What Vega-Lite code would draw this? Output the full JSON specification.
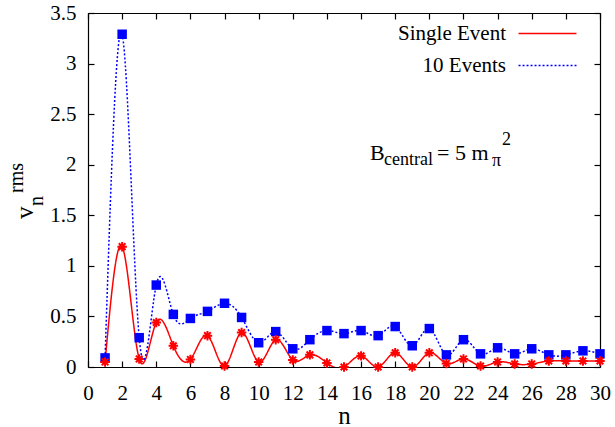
{
  "$schema": "https://vega.github.io/schema/vega-lite/v6.json",
  "autosize": "none",
  "padding": {"left": 88, "top": 13, "right": 15, "bottom": 60},
  "width": 512,
  "height": 354,
  "config": {
    "font": "Liberation Serif, Times New Roman, serif",
    "view": {"stroke": null},
    "axis": {"grid": false, "domainColor": "#000000", "tickColor": "#000000", "labelColor": "#000000", "labelFontSize": 21, "labelFont": "Liberation Serif, Times New Roman, serif", "titleFont": "Liberation Serif, Times New Roman, serif", "titleFontWeight": "normal", "titleColor": "#000000", "domainWidth": 1.2, "tickWidth": 1.2, "labelFlush": false, "labelOverlap": false},
    "text": {"font": "Liberation Serif, Times New Roman, serif"}
  },
  "datasets": {
    "main": [
      {"n": 1, "v": 0.05, "series": "Single Event"},
      {"n": 2, "v": 1.19, "series": "Single Event"},
      {"n": 3, "v": 0.08, "series": "Single Event"},
      {"n": 4, "v": 0.44, "series": "Single Event"},
      {"n": 5, "v": 0.21, "series": "Single Event"},
      {"n": 6, "v": 0.075, "series": "Single Event"},
      {"n": 7, "v": 0.31, "series": "Single Event"},
      {"n": 8, "v": 0.01, "series": "Single Event"},
      {"n": 9, "v": 0.34, "series": "Single Event"},
      {"n": 10, "v": 0.05, "series": "Single Event"},
      {"n": 11, "v": 0.27, "series": "Single Event"},
      {"n": 12, "v": 0.07, "series": "Single Event"},
      {"n": 13, "v": 0.12, "series": "Single Event"},
      {"n": 14, "v": 0.04, "series": "Single Event"},
      {"n": 15, "v": 0.0, "series": "Single Event"},
      {"n": 16, "v": 0.11, "series": "Single Event"},
      {"n": 17, "v": 0.0, "series": "Single Event"},
      {"n": 18, "v": 0.14, "series": "Single Event"},
      {"n": 19, "v": 0.0, "series": "Single Event"},
      {"n": 20, "v": 0.14, "series": "Single Event"},
      {"n": 21, "v": 0.035, "series": "Single Event"},
      {"n": 22, "v": 0.08, "series": "Single Event"},
      {"n": 23, "v": 0.01, "series": "Single Event"},
      {"n": 24, "v": 0.05, "series": "Single Event"},
      {"n": 25, "v": 0.03, "series": "Single Event"},
      {"n": 26, "v": 0.03, "series": "Single Event"},
      {"n": 27, "v": 0.06, "series": "Single Event"},
      {"n": 28, "v": 0.06, "series": "Single Event"},
      {"n": 29, "v": 0.06, "series": "Single Event"},
      {"n": 30, "v": 0.06, "series": "Single Event"},
      {"n": 1, "v": 0.09, "series": "10 Events"},
      {"n": 2, "v": 3.29, "series": "10 Events"},
      {"n": 3, "v": 0.29, "series": "10 Events"},
      {"n": 4, "v": 0.81, "series": "10 Events"},
      {"n": 5, "v": 0.52, "series": "10 Events"},
      {"n": 6, "v": 0.48, "series": "10 Events"},
      {"n": 7, "v": 0.55, "series": "10 Events"},
      {"n": 8, "v": 0.63, "series": "10 Events"},
      {"n": 9, "v": 0.49, "series": "10 Events"},
      {"n": 10, "v": 0.24, "series": "10 Events"},
      {"n": 11, "v": 0.35, "series": "10 Events"},
      {"n": 12, "v": 0.18, "series": "10 Events"},
      {"n": 13, "v": 0.27, "series": "10 Events"},
      {"n": 14, "v": 0.36, "series": "10 Events"},
      {"n": 15, "v": 0.33, "series": "10 Events"},
      {"n": 16, "v": 0.36, "series": "10 Events"},
      {"n": 17, "v": 0.31, "series": "10 Events"},
      {"n": 18, "v": 0.40, "series": "10 Events"},
      {"n": 19, "v": 0.21, "series": "10 Events"},
      {"n": 20, "v": 0.38, "series": "10 Events"},
      {"n": 21, "v": 0.12, "series": "10 Events"},
      {"n": 22, "v": 0.27, "series": "10 Events"},
      {"n": 23, "v": 0.13, "series": "10 Events"},
      {"n": 24, "v": 0.19, "series": "10 Events"},
      {"n": 25, "v": 0.13, "series": "10 Events"},
      {"n": 26, "v": 0.18, "series": "10 Events"},
      {"n": 27, "v": 0.12, "series": "10 Events"},
      {"n": 28, "v": 0.12, "series": "10 Events"},
      {"n": 29, "v": 0.16, "series": "10 Events"},
      {"n": 30, "v": 0.13, "series": "10 Events"}
    ]
  },
  "data": {"name": "main"},
  "resolve": {"axis": {"x": "independent", "y": "independent"}},
  "layer": [
    {
      "mark": {"type": "line", "interpolate": "natural", "clip": true, "strokeWidth": 1.5},
      "encoding": {
        "x": {"field": "n", "type": "quantitative", "scale": {"domain": [0, 30], "nice": false, "zero": false},
              "axis": {"orient": "bottom", "values": [0,2,4,6,8,10,12,14,16,18,20,22,24,26,28,30], "tickSize": -6, "labelPadding": 21, "title": "n", "titleFontSize": 25, "titlePadding": 0}},
        "y": {"field": "v", "type": "quantitative", "scale": {"domain": [0, 3.5], "nice": false},
              "axis": {"orient": "left", "values": [0,0.5,1,1.5,2,2.5,3,3.5], "format": "~g", "tickSize": -6, "labelPadding": 18, "title": null}},
        "color": {"field": "series", "type": "nominal",
                  "scale": {"domain": ["Single Event", "10 Events"], "range": ["#ff0000", "#0000ff"]},
                  "legend": {"title": null, "orient": "none", "legendX": 449, "legendY": 10, "symbolType": "M-3,0L3,0", "symbolSize": 373, "symbolStrokeWidth": 1.5, "labelAlign": "right", "labelOffset": -52, "labelFontSize": 21, "labelFont": "Liberation Serif, Times New Roman, serif", "labelColor": "#000000", "rowPadding": 10}},
        "strokeDash": {"field": "series", "type": "nominal",
                  "scale": {"domain": ["Single Event", "10 Events"], "range": [[1, 0], [2, 2]]},
                  "legend": {"title": null, "orient": "none", "legendX": 449, "legendY": 10, "symbolType": "M-3,0L3,0", "symbolSize": 373, "symbolStrokeWidth": 1.5, "labelAlign": "right", "labelOffset": -52, "labelFontSize": 21, "labelFont": "Liberation Serif, Times New Roman, serif", "labelColor": "#000000", "rowPadding": 10}}
      }
    },
    {
      "transform": [{"filter": "datum.series === '10 Events'"}],
      "mark": {"type": "point", "shape": "square", "filled": true, "size": 90, "color": "#0000ff", "opacity": 1},
      "encoding": {
        "x": {"field": "n", "type": "quantitative", "axis": {"orient": "top", "values": [0,2,4,6,8,10,12,14,16,18,20,22,24,26,28,30], "tickSize": -6, "labels": false, "title": null}},
        "y": {"field": "v", "type": "quantitative", "axis": {"orient": "right", "values": [0,0.5,1,1.5,2,2.5,3,3.5], "tickSize": -6, "labels": false, "title": null}}
      }
    },
    {
      "transform": [{"filter": "datum.series === 'Single Event'"}],
      "mark": {"type": "point", "shape": "M-1,0L1,0M0,-1L0,1M-0.7,-0.7L0.7,0.7M-0.7,0.7L0.7,-0.7", "filled": false, "size": 90, "stroke": "#ff0000", "strokeWidth": 2, "opacity": 1},
      "encoding": {
        "x": {"field": "n", "type": "quantitative", "axis": null},
        "y": {"field": "v", "type": "quantitative", "axis": null}
      }
    },
    {
      "data": {"values": [{"t": "v"}]},
      "mark": {"type": "text", "angle": 270, "align": "left", "baseline": "alphabetic", "fontSize": 25, "color": "#000000"},
      "encoding": {"x": {"datum": -3.23, "type": "quantitative", "axis": null}, "y": {"datum": 1.463, "type": "quantitative", "axis": null}, "text": {"field": "t"}}
    },
    {
      "data": {"values": [{"t": "n"}]},
      "mark": {"type": "text", "angle": 270, "align": "left", "baseline": "alphabetic", "fontSize": 20, "color": "#000000"},
      "encoding": {"x": {"datum": -2.64, "type": "quantitative", "axis": null}, "y": {"datum": 1.592, "type": "quantitative", "axis": null}, "text": {"field": "t"}}
    },
    {
      "data": {"values": [{"t": "rms"}]},
      "mark": {"type": "text", "angle": 270, "align": "left", "baseline": "alphabetic", "fontSize": 20, "color": "#000000"},
      "encoding": {"x": {"datum": -3.82, "type": "quantitative", "axis": null}, "y": {"datum": 1.72, "type": "quantitative", "axis": null}, "text": {"field": "t"}}
    },
    {
      "data": {"values": [{"t": "B"}]},
      "mark": {"type": "text", "align": "left", "baseline": "alphabetic", "fontSize": 22, "color": "#000000"},
      "encoding": {"x": {"datum": 16.52, "type": "quantitative", "axis": null}, "y": {"datum": 2.047, "type": "quantitative", "axis": null}, "text": {"field": "t"}}
    },
    {
      "data": {"values": [{"t": "central"}]},
      "mark": {"type": "text", "align": "left", "baseline": "alphabetic", "fontSize": 18, "color": "#000000"},
      "encoding": {"x": {"datum": 17.34, "type": "quantitative", "axis": null}, "y": {"datum": 1.997, "type": "quantitative", "axis": null}, "text": {"field": "t"}}
    },
    {
      "data": {"values": [{"t": "= 5 m"}]},
      "mark": {"type": "text", "align": "left", "baseline": "alphabetic", "fontSize": 22, "color": "#000000"},
      "encoding": {"x": {"datum": 20.45, "type": "quantitative", "axis": null}, "y": {"datum": 2.047, "type": "quantitative", "axis": null}, "text": {"field": "t"}}
    },
    {
      "data": {"values": [{"t": "π"}]},
      "mark": {"type": "text", "align": "left", "baseline": "alphabetic", "fontSize": 18, "color": "#000000"},
      "encoding": {"x": {"datum": 23.67, "type": "quantitative", "axis": null}, "y": {"datum": 1.983, "type": "quantitative", "axis": null}, "text": {"field": "t"}}
    },
    {
      "data": {"values": [{"t": "2"}]},
      "mark": {"type": "text", "align": "left", "baseline": "alphabetic", "fontSize": 18, "color": "#000000"},
      "encoding": {"x": {"datum": 24.26, "type": "quantitative", "axis": null}, "y": {"datum": 2.195, "type": "quantitative", "axis": null}, "text": {"field": "t"}}
    }
  ]
}
